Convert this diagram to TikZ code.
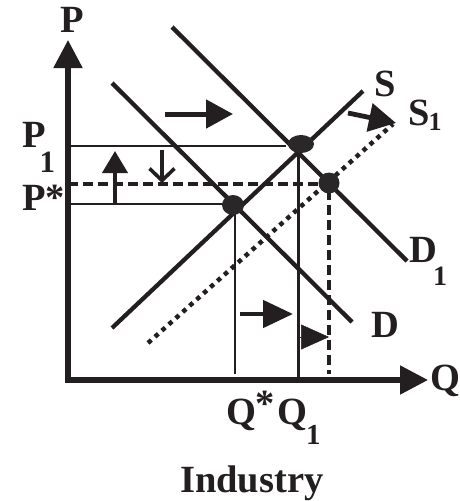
\documentclass[tikz,border=0pt]{standalone}
\usepackage{fontspec}
\setmainfont{Liberation Serif}
\usetikzlibrary{arrows.meta}
\definecolor{ink}{HTML}{231F20}
\begin{document}
\begin{tikzpicture}[x=1pt,y=-1pt,
  axis/.style={line width=5.2pt,draw=ink},
  curve/.style={line width=4.3pt,draw=ink},
  thin/.style={line width=2.2pt,draw=ink},
  dashln/.style={line width=4.2pt,draw=ink,dash pattern=on 10pt off 5pt},
  dotln/.style={line width=4.5pt,draw=ink,dash pattern=on 4.5pt off 4.8pt},
  lbl/.style={inner sep=0pt,anchor=base west,font=\fontsize{38.5}{38.5}\selectfont\bfseries,text=ink},
  eqdot/.style={fill=ink!92!gray,draw=none},
  bigtip/.style={-{Triangle[length=27pt,width=28pt]}}
]
\useasboundingbox (0,0) rectangle (460,501);
% coordinates
\coordinate (O) at (68,380);
\coordinate (Ptop) at (68,40);
\coordinate (Qend) at (428,380);
\coordinate (Sa) at (112,328);
\coordinate (Sb) at (363,91);
\coordinate (S1a) at (148,343);
\coordinate (S1b) at (393,124);
\coordinate (Da) at (112,83);
\coordinate (Db) at (352,322);
\coordinate (D1a) at (172,27);
\coordinate (D1b) at (407,261);
\coordinate (E0) at (233,205);
\coordinate (E1) at (301,144);
\coordinate (E2) at (329,183);
% horizontal reference lines
\coordinate (P1l) at (68,146);
\coordinate (P1r) at (286,146);
\coordinate (Psl) at (68,184);
\coordinate (Psr) at (322,184);
\coordinate (P0l) at (68,204);
\coordinate (P0r) at (226,204);
% vertical reference lines
\coordinate (QsT) at (235,205);
\coordinate (QsB) at (235,374);
\coordinate (Q1T) at (298,145);
\coordinate (Q1B) at (298,380);
\coordinate (QdT) at (329,190);
\coordinate (QdB) at (329,374);

% curves
\draw[curve] (Sa) -- (Sb);
\draw[dotln] (S1a) -- (S1b);
\draw[curve] (Da) -- (Db);
\draw[curve] (D1a) -- (D1b);

\draw[thin] (P1l) -- (P1r);
\draw[dashln] (Psl) -- (Psr);
\draw[thin] (P0l) -- (P0r);
\draw[thin] (QsT) -- (QsB);
\draw[line width=3pt,draw=ink] (Q1T) -- (Q1B);
\draw[dashln,line width=4.6pt] (QdT) -- (QdB);

% axes
\draw[axis,-{Triangle[length=28pt,width=28pt]}] (O) -- (Ptop);
\draw[axis,-{Triangle[length=28pt,width=28pt]}] ([xshift=-2.6pt]O) -- (Qend);

% equilibrium dots
\fill[eqdot] (E0) ellipse (11pt and 10pt);
\fill[eqdot] (E1) ellipse (13pt and 9pt);
\fill[eqdot] (E2) ellipse (10.5pt and 10.5pt);

% shift arrows
\coordinate (A1a) at (165,114);
\coordinate (A1b) at (233,114);
\draw[line width=5pt,draw=ink,bigtip] (A1a) -- (A1b);
\coordinate (A2a) at (115,205);
\coordinate (A2b) at (115,151);
\draw[line width=4pt,draw=ink,-{Triangle[length=22pt,width=25pt]}] (A2a) -- (A2b);
\coordinate (A3a) at (162,150);
\coordinate (A3b) at (162,183);
\draw[line width=3.6pt,draw=ink,-{Straight Barb[length=12pt,width=25pt,line width=3.6pt]}] (A3a) -- (A3b);
\coordinate (A4a) at (348,113);
\coordinate (A4b) at (396,123);
\draw[line width=4.8pt,draw=ink,bigtip] (A4a) -- (A4b);
\coordinate (A5a) at (240,314);
\coordinate (A5b) at (293,314);
\draw[line width=4.8pt,draw=ink,-{Triangle[length=30pt,width=27pt]}] (A5a) -- (A5b);
\coordinate (A6a) at (300,337);
\coordinate (A6b) at (329,337);
\draw[line width=0.5pt,draw=ink,-{Triangle[length=28pt,width=25pt]}] (A6a) -- (A6b);

% labels
\node[lbl] (lP) at (60,32) {P};
\node[lbl] (lQ) at (430,390) {Q};
\node[lbl] (lP1) at (22,147) {P\hspace{-6pt}\raisebox{-25pt}{\fontsize{31}{31}\selectfont 1}};
\node[lbl] (lPs) at (22,210) {P*};
\node[lbl] (lS) at (374,96) {S};
\node[lbl] (lS1) at (408,125) {S\hspace{-1pt}\raisebox{-5pt}{\fontsize{26}{26}\selectfont 1}};
\node[lbl] (lD1) at (409,262) {D\hspace{-4pt}\raisebox{-23pt}{\fontsize{28}{28}\selectfont 1}};
\node[lbl] (lD) at (371,337) {D};
\node[lbl] (lQs) at (226,424) {Q\hspace{-1pt}\raisebox{8pt}{*}};
\node[lbl] (lQ1) at (277,424) {Q\hspace{-1pt}\raisebox{-20pt}{\fontsize{29}{29}\selectfont 1}};
\node[lbl] (lInd) at (180,492) {Industry};
\end{tikzpicture}
\end{document}
